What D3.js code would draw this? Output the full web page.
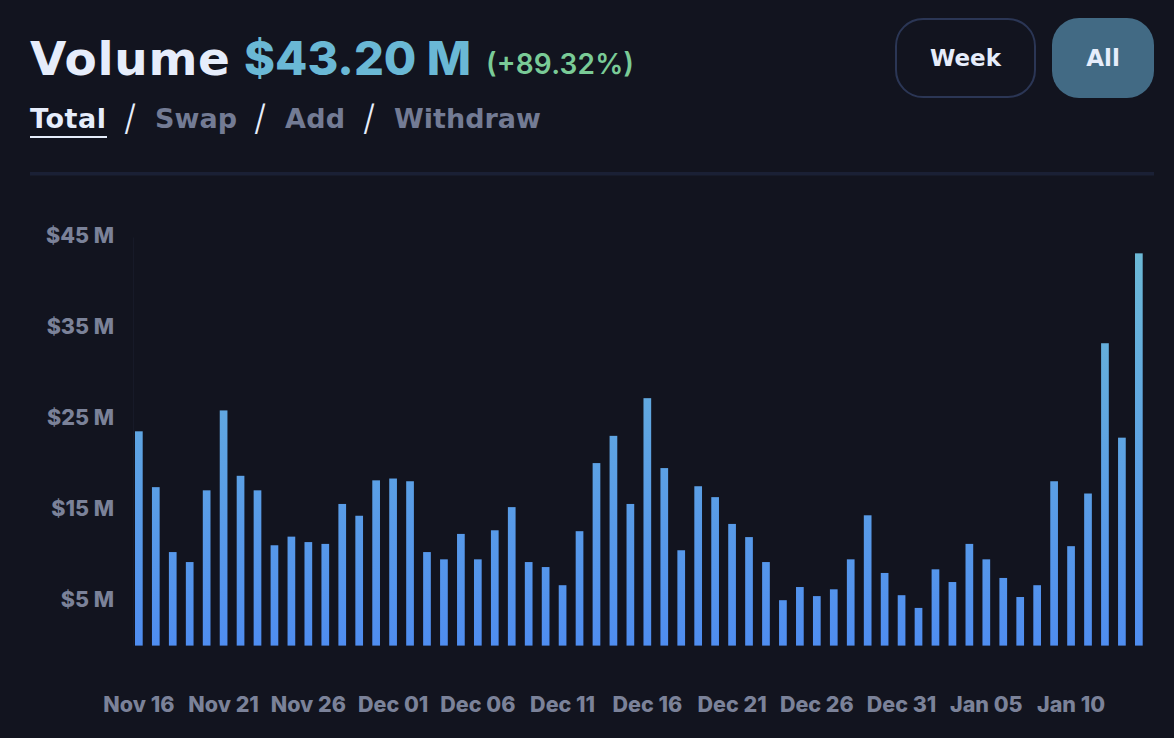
<!DOCTYPE html>
<html>
<head>
<meta charset="utf-8">
<script src="https://cdn.jsdelivr.net/npm/d3@7"></script>
<style>
    html, body { margin: 0; padding: 0; background: #12141f; overflow: hidden; }
    text { font-family: Inter, "Noto Sans", sans-serif; }
    .tick text { fill: #7b8299; font-weight: 800; }
</style>
</head>
<body>
<svg id="chart"></svg>
<script>
const width = 1174;
const height = 738;

const startDay = new Date(2021, 10, 16);
const endDay = new Date(2022, 0, 15);
const days = d3.timeDay.range(startDay, endDay);

const volumes = [
    23.6, 17.45, 10.3, 9.2, 17.1, 25.9, 18.7, 17.1, 11.05, 12,
    11.4, 11.2, 15.6, 14.3, 18.2, 18.4, 18.1, 10.3, 9.5, 12.3,
    9.5, 12.7, 15.25, 9.2, 8.65, 6.65, 12.6, 20.1, 23.1, 15.6,
    27.25, 19.55, 10.5, 17.55, 16.35, 13.4, 11.95, 9.2, 5.0, 6.45,
    5.45, 6.2, 9.5, 14.35, 8.0, 5.55, 4.15, 8.4, 7.0, 11.2,
    9.5, 7.45, 5.35, 6.65, 18.1, 10.95, 16.75, 33.3, 22.9, 43.2
];
const yTicks = [5, 15, 25, 35, 45];
const tabs = ["Total", "Swap", "Add", "Withdraw"];

const svg = d3.select("#chart")
    .attr("width", width)
    .attr("height", height);

const x = d3.scaleBand()
    .domain(days)
    .range([135, 1142.7])
    .paddingInner(0.546)
    .paddingOuter(0);

const y = d3.scaleLinear()
    .domain([0, 45])
    .range([645.6, 237]);

const gradient = svg.append("defs").append("linearGradient")
    .attr("id", "barFill")
    .attr("gradientUnits", "userSpaceOnUse")
    .attr("x1", 0).attr("x2", 0)
    .attr("y1", y(43.2)).attr("y2", y(0));
gradient.append("stop").attr("offset", "0%").attr("stop-color", "#6cb9d6");
gradient.append("stop").attr("offset", "100%").attr("stop-color", "#4f8df0");

// header
const wide = "DejaVu Sans";
const label = (txt, px, py, size, weight, fill, len) => {
    const t = svg.append("text")
        .attr("x", px).attr("y", py)
        .attr("font-size", size)
        .attr("font-weight", weight)
        .attr("fill", fill)
        .text(txt);
    if (len) t.attr("textLength", len);
    return t;
};

label("Volume", 30, 75, 47, 700, "#e6edfb", 200).style("font-family", wide);
label("$43.20 M", 244, 75, 47, 800, "#6ab8d5", 227);
label("(+89.32%)", 486, 74, 28, 600, "#7acb97", 148);

const tabX = [30, 155, 285, 394];
const tabLen = [76, 82, 60, 147];
tabs.forEach((tab, i) => {
    label(tab, tabX[i], 128, 27, 700, i === 0 ? "#e6edfb" : "#737b94", tabLen[i])
        .style("font-family", wide);
});
[124, 254, 363].forEach(px => label("/", px, 130, 35, 300, "#e6edfb"));
svg.append("rect").attr("x", 30).attr("y", 136).attr("width", 77).attr("height", 2).attr("fill", "#e6edfb");

svg.append("rect")
    .attr("x", 896).attr("y", 19)
    .attr("width", 139).attr("height", 78)
    .attr("rx", 27)
    .attr("fill", "none")
    .attr("stroke", "#2b3655").attr("stroke-width", 2);
label("Week", 965.5, 66, 23, 700, "#e6edfb").attr("text-anchor", "middle").style("font-family", wide);

svg.append("rect")
    .attr("x", 1052).attr("y", 18)
    .attr("width", 102).attr("height", 80)
    .attr("rx", 27)
    .attr("fill", "#426a84");
label("All", 1103, 66, 23, 700, "#e6edfb").attr("text-anchor", "middle").style("font-family", wide);

svg.append("rect")
    .attr("x", 30).attr("y", 172)
    .attr("width", 1124).attr("height", 3.5)
    .attr("fill", "#1a2035");

// axes
svg.append("g")
    .attr("transform", "translate(133,0)")
    .call(d3.axisLeft(y)
        .tickValues(yTicks)
        .tickSize(0)
        .tickPadding(19)
        .tickFormat(d => `$${d} M`))
    .call(g => g.select(".domain").attr("stroke", "#171a28"))
    .call(g => g.selectAll("text").attr("font-size", 21.5).attr("dy", "0.27em"));

svg.append("g")
    .attr("transform", "translate(0,645.6)")
    .call(d3.axisBottom(x)
        .tickValues(days.filter((d, i) => i % 5 === 0))
        .tickSize(0)
        .tickPadding(51)
        .tickFormat(d3.timeFormat("%b %d")))
    .call(g => g.select(".domain").remove())
    .call(g => g.selectAll("text").attr("font-size", 21.5));

// bars
svg.append("g")
    .selectAll("rect")
    .data(days)
    .enter().append("rect")
    .attr("x", d => x(d))
    .attr("y", (d, i) => y(volumes[i]))
    .attr("width", x.bandwidth())
    .attr("height", (d, i) => y(0) - y(volumes[i]))
    .attr("fill", "url(#barFill)");
</script>
</body>
</html>
